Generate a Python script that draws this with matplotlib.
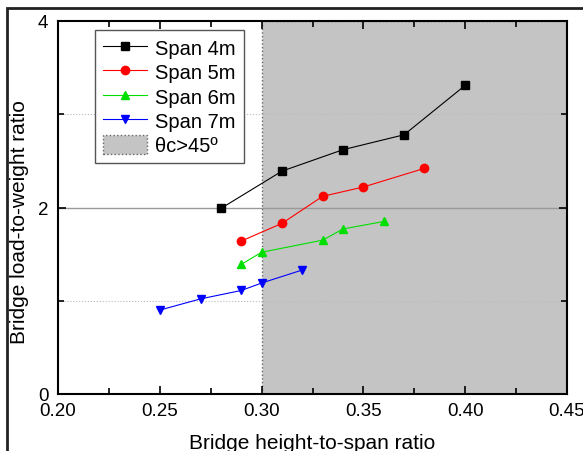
import matplotlib
matplotlib.use("Agg")
import matplotlib.pyplot as plt
from matplotlib.patches import Rectangle, Patch
from matplotlib.ticker import MultipleLocator

plt.rcParams['font.family'] = ['Liberation Sans', 'DejaVu Sans']

x4 = [0.28, 0.31, 0.34, 0.37, 0.40]
y4 = [1.99, 2.39, 2.62, 2.78, 3.31]
x5 = [0.29, 0.31, 0.33, 0.35, 0.38]
y5 = [1.64, 1.83, 2.12, 2.22, 2.42]
x6 = [0.29, 0.30, 0.33, 0.34, 0.36]
y6 = [1.39, 1.52, 1.65, 1.77, 1.85]
x7 = [0.25, 0.27, 0.29, 0.30, 0.32]
y7 = [0.90, 1.02, 1.11, 1.19, 1.33]
labels = ["Span 4m", "Span 5m", "Span 6m", "Span 7m"]
shade_label = "θc>45º"
shade_start = 0.30
xticks = [0.20, 0.25, 0.30, 0.35, 0.40, 0.45]
yticks = [0, 2, 4]

fig = plt.figure(figsize=(5.83, 4.52), dpi=100)
W, H = 583, 452
# figure border
fig.patches.append(Rectangle((7 / W, -0.1), 1.2, (1 - 9 / H) + 0.1, transform=fig.transFigure,
                             fill=False, edgecolor='#222222', linewidth=2.0))
ax = fig.add_axes([58 / W, 1 - 395 / H, (567 - 58) / W, (395 - 22) / H])

ax.set_xlim(0.20, 0.45)
ax.set_ylim(0, 4)

ax.axvspan(shade_start, 0.45, facecolor='#c4c4c4', edgecolor='#666666', linestyle=':',
           linewidth=1.0, zorder=0)
for yv in [1, 3]:
    ax.axhline(yv, color='#bbbbbb', linestyle=':', linewidth=0.8, zorder=0.5)
ax.axhline(2, color='#999999', linestyle='-', linewidth=1.0, zorder=0.5)

kw = dict(linewidth=0.8, markersize=6, zorder=3)
ax.plot(x4, y4, color='black', marker='s', label=labels[0], **kw)
ax.plot(x5, y5, color='red', marker='o', label=labels[1], **kw)
ax.plot(x6, y6, color='#00e000', marker='^', label=labels[2], **kw)
ax.plot(x7, y7, color='blue', marker='v', label=labels[3], **kw)

handles, labs = ax.get_legend_handles_labels()
handles.append(Patch(facecolor='#c4c4c4', edgecolor='#666666', linestyle=':', linewidth=1.0))
labs.append(shade_label)
leg = ax.legend(handles, labs, loc='upper left', bbox_to_anchor=(0.072, 0.976), fontsize=14.5,
                frameon=True, fancybox=False, edgecolor='#555555', framealpha=1,
                handlelength=2.2, handleheight=1.05, handletextpad=0.4, borderpad=0.4,
                labelspacing=0.2, borderaxespad=0)
leg.get_frame().set_linewidth(1.0)

ax.set_xticks(xticks)
ax.set_xticklabels([f"{v:.2f}" for v in xticks])
ax.set_yticks(yticks)
ax.xaxis.set_minor_locator(MultipleLocator(0.025))
ax.yaxis.set_minor_locator(MultipleLocator(1))
ax.tick_params(which='both', direction='in', top=True, right=True, labelsize=13.5, width=1.2)
ax.tick_params(axis='x', which='major', length=6, pad=6)
ax.tick_params(axis='y', which='major', length=6, pad=7)
ax.tick_params(which='minor', length=4)
for s in ax.spines.values():
    s.set_linewidth(1.5)

ax.set_xlabel("Bridge height-to-span ratio", fontsize=15, labelpad=10)
ax.set_ylabel("Bridge load-to-weight ratio", fontsize=15)
ax.yaxis.set_label_coords(-0.056, 0.464)

fig.savefig("out.png", dpi=100)
